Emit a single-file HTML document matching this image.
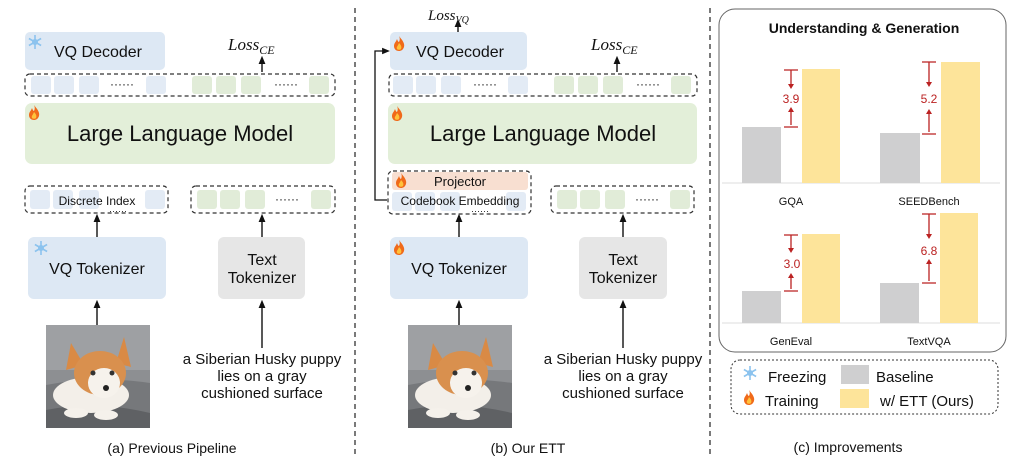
<!DOCTYPE html>
<html><head><meta charset="utf-8"><style>
html,body{margin:0;padding:0;background:#fff;}
svg{display:block;font-family:"Liberation Sans",sans-serif;}
</style></head><body>
<svg width="1030" height="471" viewBox="0 0 1030 471" xmlns="http://www.w3.org/2000/svg">
<defs>
<marker id="ah" markerWidth="6" markerHeight="6" refX="3" refY="3" orient="auto"><path d="M0,0.5 L6,3 L0,5.5 z" fill="#111"/></marker>
<marker id="rh" markerWidth="6" markerHeight="6" refX="3" refY="3" orient="auto"><path d="M0,0.5 L6,3 L0,5.5 z" fill="#b22"/></marker>
<g id="flame"><path d="M6,0 C9,4 12,7 11,11 C10,14 8,15 6,15 C3,15 1,13 1,10 C1,7 3,6 4,3 C5,6 6,6 6,6 C7,4 7,2 6,0z" fill="#f06a1a"/><path d="M6,7 C8,9 9,11 8,13 C7,14 5,14 4,13 C3,11 5,10 6,7z" fill="#ffc23a"/></g>
<g id="snow" stroke="#8cc3ee" stroke-width="1.6" fill="none"><path d="M7,0 V14 M0.9,3.5 L13.1,10.5 M0.9,10.5 L13.1,3.5"/><circle cx="7" cy="7" r="2.2"/></g>
<g id="pup">
<rect x="0" y="0" width="104" height="103" fill="#8d8f92"/>
<rect x="0" y="0" width="104" height="45" fill="#9ea0a3"/>
<path d="M0,60 Q50,50 104,58 L104,103 L0,103z" fill="#76787b"/>
<path d="M0,85 Q50,75 104,88 L104,103 L0,103z" fill="#5f6164"/>
<ellipse cx="45" cy="70" rx="38" ry="18" fill="#f3efe9"/>
<path d="M25,18 L38,40 L20,45z" fill="#d98a45"/>
<path d="M78,12 L70,38 L85,42z" fill="#d98a45"/>
<ellipse cx="54" cy="48" rx="26" ry="22" fill="#d9904e"/>
<ellipse cx="58" cy="58" rx="16" ry="15" fill="#f6f2ec"/>
<circle cx="47" cy="48" r="2.5" fill="#333"/><circle cx="66" cy="48" r="2.5" fill="#333"/>
<circle cx="60" cy="63" r="3" fill="#222"/>
<ellipse cx="30" cy="88" rx="12" ry="5" fill="#f5f1eb"/><ellipse cx="60" cy="90" rx="12" ry="5" fill="#f5f1eb"/>
</g>
</defs>

<!-- dividers -->
<line x1="355" y1="8" x2="355" y2="455" stroke="#222" stroke-width="1.2" stroke-dasharray="5,4"/>
<line x1="710" y1="8" x2="710" y2="455" stroke="#222" stroke-width="1.2" stroke-dasharray="5,4"/>

<!-- ===== Panel A ===== -->
<rect x="25" y="32" width="140" height="38" rx="5" fill="#dde8f4"/>
<use href="#snow" x="28" y="35"/>
<text x="98" y="57" font-size="16" text-anchor="middle" fill="#111">VQ Decoder</text>
<text x="228" y="50" font-size="17" font-style="italic" font-family="Liberation Serif,serif" fill="#111">Loss<tspan font-size="12" dy="4">CE</tspan></text>
<line x1="262" y1="72" x2="262" y2="60" stroke="#111" stroke-width="1.4" marker-end="url(#ah)"/>
<rect x="25" y="74" width="310" height="22" rx="5" fill="none" stroke="#333" stroke-width="1.2" stroke-dasharray="4,3"/>
<g fill="#e3ebf5"><rect x="31" y="76" width="20" height="18" rx="3"/><rect x="54" y="76" width="20" height="18" rx="3"/><rect x="79" y="76" width="20" height="18" rx="3"/><rect x="146" y="76" width="20" height="18" rx="3"/></g>
<g fill="#e1ecd8"><rect x="192" y="76" width="20" height="18" rx="3"/><rect x="216" y="76" width="20" height="18" rx="3"/><rect x="241" y="76" width="20" height="18" rx="3"/><rect x="309" y="76" width="20" height="18" rx="3"/></g>
<text x="122" y="88" font-size="12" text-anchor="middle" fill="#111">······</text>
<text x="286" y="88" font-size="12" text-anchor="middle" fill="#111">······</text>
<rect x="25" y="103" width="310" height="61" rx="7" fill="#e3efd9"/>
<use href="#flame" x="28" y="105"/>
<text x="180" y="141" font-size="22" text-anchor="middle" fill="#111">Large Language Model</text>
<rect x="25" y="186" width="143" height="27" rx="5" fill="none" stroke="#333" stroke-width="1.2" stroke-dasharray="4,3"/>
<g fill="#e3ebf5"><rect x="30" y="190" width="20" height="19" rx="3"/><rect x="53" y="190" width="20" height="19" rx="3"/><rect x="79" y="190" width="20" height="19" rx="3"/><rect x="145" y="190" width="20" height="19" rx="3"/></g>
<text x="97" y="205" font-size="12" text-anchor="middle" fill="#111">Discrete Index</text>
<text x="118" y="214" font-size="9" text-anchor="middle" fill="#111">······</text>
<rect x="191" y="186" width="144" height="27" rx="5" fill="none" stroke="#333" stroke-width="1.2" stroke-dasharray="4,3"/>
<g fill="#e1ecd8"><rect x="197" y="190" width="20" height="19" rx="3"/><rect x="220" y="190" width="20" height="19" rx="3"/><rect x="245" y="190" width="20" height="19" rx="3"/><rect x="311" y="190" width="20" height="19" rx="3"/></g>
<text x="287" y="203" font-size="12" text-anchor="middle" fill="#111">······</text>
<line x1="97" y1="237" x2="97" y2="218" stroke="#111" stroke-width="1.4" marker-end="url(#ah)"/>
<line x1="262" y1="237" x2="262" y2="218" stroke="#111" stroke-width="1.4" marker-end="url(#ah)"/>
<rect x="28" y="237" width="138" height="62" rx="6" fill="#dde8f4"/>
<use href="#snow" x="34" y="241"/>
<text x="97" y="274" font-size="16" text-anchor="middle" fill="#111">VQ Tokenizer</text>
<rect x="218" y="237" width="87" height="62" rx="6" fill="#e6e6e6"/>
<text x="262" y="265" font-size="16" text-anchor="middle" fill="#111">Text</text>
<text x="262" y="283" font-size="16" text-anchor="middle" fill="#111">Tokenizer</text>
<line x1="97" y1="325" x2="97" y2="304" stroke="#111" stroke-width="1.4" marker-end="url(#ah)"/>
<line x1="262" y1="348" x2="262" y2="304" stroke="#111" stroke-width="1.4" marker-end="url(#ah)"/>
<use href="#pup" x="46" y="325"/>
<g font-size="15" text-anchor="middle" fill="#111"><text x="262" y="364">a Siberian Husky puppy</text><text x="262" y="381">lies on a gray</text><text x="262" y="398">cushioned surface</text></g>
<text x="172" y="453" font-size="14" text-anchor="middle" fill="#111">(a) Previous Pipeline</text>

<!-- ===== Panel B ===== -->
<text x="428" y="20" font-size="15" font-style="italic" font-family="Liberation Serif,serif" fill="#111">Loss<tspan font-size="10" dy="3">VQ</tspan></text>
<line x1="458" y1="32" x2="458" y2="23" stroke="#111" stroke-width="1.4" marker-end="url(#ah)"/>
<rect x="390" y="32" width="137" height="38" rx="5" fill="#dde8f4"/>
<use href="#flame" x="393" y="36"/>
<text x="460" y="57" font-size="16" text-anchor="middle" fill="#111">VQ Decoder</text>
<text x="591" y="50" font-size="17" font-style="italic" font-family="Liberation Serif,serif" fill="#111">Loss<tspan font-size="12" dy="4">CE</tspan></text>
<line x1="617" y1="72" x2="617" y2="60" stroke="#111" stroke-width="1.4" marker-end="url(#ah)"/>
<polyline points="387,200 375,200 375,51 386,51" fill="none" stroke="#111" stroke-width="1.3" marker-end="url(#ah)"/>
<rect x="389" y="74" width="308" height="22" rx="5" fill="none" stroke="#333" stroke-width="1.2" stroke-dasharray="4,3"/>
<g fill="#e3ebf5"><rect x="393" y="76" width="20" height="18" rx="3"/><rect x="416" y="76" width="20" height="18" rx="3"/><rect x="441" y="76" width="20" height="18" rx="3"/><rect x="508" y="76" width="20" height="18" rx="3"/></g>
<g fill="#e1ecd8"><rect x="554" y="76" width="20" height="18" rx="3"/><rect x="578" y="76" width="20" height="18" rx="3"/><rect x="603" y="76" width="20" height="18" rx="3"/><rect x="671" y="76" width="20" height="18" rx="3"/></g>
<text x="485" y="88" font-size="12" text-anchor="middle" fill="#111">······</text>
<text x="648" y="88" font-size="12" text-anchor="middle" fill="#111">······</text>
<rect x="388" y="103" width="309" height="61" rx="7" fill="#e3efd9"/>
<use href="#flame" x="391" y="106"/>
<text x="543" y="141" font-size="22" text-anchor="middle" fill="#111">Large Language Model</text>
<rect x="388" y="171" width="143" height="43" rx="5" fill="none" stroke="#333" stroke-width="1.2" stroke-dasharray="4,3"/>
<rect x="392" y="172" width="136" height="18" rx="3" fill="#f8dfd1"/>
<use href="#flame" x="395" y="173" transform="scale(1)"/>
<text x="460" y="186" font-size="13" text-anchor="middle" fill="#111">Projector</text>
<g fill="#e3ebf5"><rect x="392" y="192" width="20" height="19" rx="3"/><rect x="415" y="192" width="20" height="19" rx="3"/><rect x="440" y="192" width="20" height="19" rx="3"/><rect x="506" y="192" width="20" height="19" rx="3"/></g>
<text x="460" y="205" font-size="12" text-anchor="middle" fill="#111">Codebook Embedding</text>
<text x="480" y="214" font-size="9" text-anchor="middle" fill="#111">······</text>
<rect x="551" y="186" width="143" height="27" rx="5" fill="none" stroke="#333" stroke-width="1.2" stroke-dasharray="4,3"/>
<g fill="#e1ecd8"><rect x="557" y="190" width="20" height="19" rx="3"/><rect x="580" y="190" width="20" height="19" rx="3"/><rect x="605" y="190" width="20" height="19" rx="3"/><rect x="670" y="190" width="20" height="19" rx="3"/></g>
<text x="647" y="203" font-size="12" text-anchor="middle" fill="#111">······</text>
<line x1="459" y1="237" x2="459" y2="218" stroke="#111" stroke-width="1.4" marker-end="url(#ah)"/>
<line x1="623" y1="237" x2="623" y2="218" stroke="#111" stroke-width="1.4" marker-end="url(#ah)"/>
<rect x="390" y="237" width="138" height="62" rx="6" fill="#dde8f4"/>
<use href="#flame" x="393" y="240"/>
<text x="459" y="274" font-size="16" text-anchor="middle" fill="#111">VQ Tokenizer</text>
<rect x="579" y="237" width="88" height="62" rx="6" fill="#e6e6e6"/>
<text x="623" y="265" font-size="16" text-anchor="middle" fill="#111">Text</text>
<text x="623" y="283" font-size="16" text-anchor="middle" fill="#111">Tokenizer</text>
<line x1="459" y1="325" x2="459" y2="304" stroke="#111" stroke-width="1.4" marker-end="url(#ah)"/>
<line x1="623" y1="348" x2="623" y2="304" stroke="#111" stroke-width="1.4" marker-end="url(#ah)"/>
<use href="#pup" x="408" y="325"/>
<g font-size="15" text-anchor="middle" fill="#111"><text x="623" y="364">a Siberian Husky puppy</text><text x="623" y="381">lies on a gray</text><text x="623" y="398">cushioned surface</text></g>
<text x="528" y="453" font-size="14" text-anchor="middle" fill="#111">(b) Our ETT</text>

<!-- ===== Panel C ===== -->
<rect x="719" y="9" width="287" height="343" rx="16" fill="#fff" stroke="#666" stroke-width="1"/>
<text x="864" y="33" font-size="14" font-weight="bold" text-anchor="middle" fill="#111">Understanding &amp; Generation</text>
<line x1="722" y1="183" x2="1000" y2="183" stroke="#ddd" stroke-width="1"/>
<line x1="722" y1="323" x2="1000" y2="323" stroke="#ddd" stroke-width="1"/>
<g fill="#cfcfd0">
<rect x="742" y="127" width="39" height="56"/><rect x="880" y="133" width="40" height="50"/>
<rect x="742" y="291" width="39" height="32"/><rect x="880" y="283" width="39" height="40"/>
</g>
<g fill="#fde49a">
<rect x="802" y="69" width="38" height="114"/><rect x="941" y="62" width="39" height="121"/>
<rect x="802" y="234" width="38" height="89"/><rect x="940" y="213" width="38" height="110"/>
</g>
<g stroke="#b22" stroke-width="1.3" fill="none">
<path d="M784,70 H798 M784,127 H798 M791,70 V86 M791,125 V110" />
<path d="M922,62 H936 M922,134 H936 M929,62 V84 M929,132 V112" />
<path d="M784,235 H798 M784,291 H798 M791,235 V250 M791,289 V276" />
<path d="M922,214 H936 M922,283 H936 M929,214 V236 M929,281 V262" />
</g>
<g fill="#b22"><path d="M788,84 L794,84 L791,89z M788,112 L794,112 L791,107z M926,82 L932,82 L929,87z M926,114 L932,114 L929,109z M788,248 L794,248 L791,253z M788,278 L794,278 L791,273z M926,234 L932,234 L929,239z M926,264 L932,264 L929,259z"/></g>
<g font-size="12" fill="#b22" text-anchor="middle"><text x="791" y="103">3.9</text><text x="929" y="103">5.2</text><text x="792" y="268">3.0</text><text x="929" y="255">6.8</text></g>
<g font-size="11" fill="#111" text-anchor="middle"><text x="791" y="205">GQA</text><text x="929" y="205">SEEDBench</text><text x="791" y="345">GenEval</text><text x="929" y="345">TextVQA</text></g>
<rect x="731" y="360" width="267" height="54" rx="9" fill="none" stroke="#333" stroke-width="1" stroke-dasharray="2,2"/>
<use href="#snow" x="743" y="366"/>
<use href="#flame" x="743" y="390"/>
<text x="768" y="382" font-size="15" fill="#111">Freezing</text>
<text x="765" y="406" font-size="15" fill="#111">Training</text>
<rect x="841" y="365" width="28" height="19" fill="#cfcfd0"/>
<rect x="840" y="389" width="29" height="19" fill="#fde49a"/>
<text x="876" y="382" font-size="15" fill="#111">Baseline</text>
<text x="880" y="406" font-size="15" fill="#111">w/ ETT (Ours)</text>
<text x="848" y="452" font-size="14" text-anchor="middle" fill="#111">(c) Improvements</text>
</svg>
</body></html>
